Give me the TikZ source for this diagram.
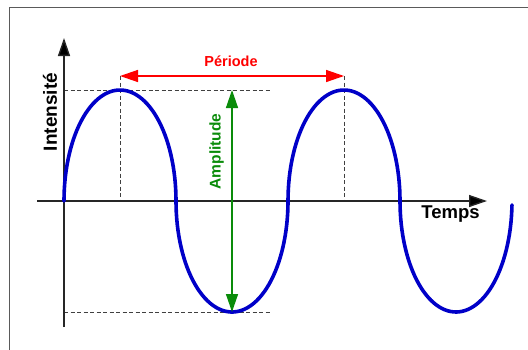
\documentclass[tikz,border=0pt]{standalone}
\usepackage{fontspec}
\setmainfont{Liberation Sans}
\usetikzlibrary{arrows.meta}
\definecolor{wave}{RGB}{0,0,200}
\definecolor{ampl}{RGB}{10,140,10}
\definecolor{peri}{RGB}{255,0,0}
\definecolor{frame}{RGB}{90,90,90}
\begin{document}
\begin{tikzpicture}[x=1bp,y=-1bp,
  axisline/.style={line width=1.4bp,draw=black!85,-{Triangle[length=18bp,width=12bp,fill=black]}},
  guide/.style={line width=0.8bp,draw=black!75,dash pattern=on 4bp off 2.5bp},
  dimline/.style={line width=1.4bp,{Triangle[length=18bp,width=12bp]}-{Triangle[length=18bp,width=12bp]}},
  lbl/.style={inner sep=0pt,font=\bfseries}]
\useasboundingbox (0,0) rectangle (528,349);
\fill[white] (0,0) rectangle (528,349);
% frame
\draw[frame,line width=1.6bp] (9.5,350) -- (9.5,7.5) -- (529,7.5);
% coordinates
\coordinate (O) at (64,201);
\coordinate (xs) at (37,201);
\coordinate (xe) at (487,201);
\coordinate (ys) at (64,327);
\coordinate (ye) at (64,38);
\coordinate (p1) at (120,90);
\coordinate (p2) at (344,90);
\coordinate (t1) at (232,312);
\coordinate (ax1) at (120,201);
\coordinate (ax2) at (344,201);
\coordinate (pa) at (120,76);
\coordinate (pb) at (344,76);
\coordinate (ga) at (232,90);
\coordinate (gb) at (232,312);
\coordinate (topL) at (64,90);
\coordinate (topR) at (272,90);
\coordinate (botL) at (64,312);
\coordinate (botR) at (272,312);
% guides
\draw[guide] (topL) -- (topR);
\draw[guide] (botL) -- (botR);
\draw[guide] (pa) -- (ax1);
\draw[guide] (pb) -- (ax2);
% axes
\draw[axisline] (xs) -- (xe);
\draw[axisline] (ys) -- (ye);
% wave
\draw[wave,line width=3.6bp,line join=round,line cap=round]
  plot[domain=0:180,samples=60,variable=\t] ({120-56*cos(\t)},{201-111*sin(\t)})
  -- plot[domain=0:180,samples=60,variable=\t] ({232-56*cos(\t)},{201+111*sin(\t)})
  -- plot[domain=0:180,samples=60,variable=\t] ({344-56*cos(\t)},{201-111*sin(\t)})
  -- plot[domain=0:178,samples=60,variable=\t] ({456-56*cos(\t)},{201+111*sin(\t)});
% period
\draw[dimline,draw=peri,fill=peri] (pa) -- (pb);
\node[lbl,text=peri,font=\bfseries\fontsize{14.5bp}{16bp}\selectfont] (period) at (231,61.5) {Période};
% amplitude
\draw[dimline,draw=ampl,fill=ampl] (ga) -- (gb);
\node[lbl,text=ampl,rotate=90,font=\bfseries\fontsize{15.5bp}{17bp}\selectfont] (amp) at (216.5,151.5) {Amplitude};
% axis labels
\node[lbl,rotate=90,font=\bfseries\fontsize{19bp}{21bp}\selectfont] (int) at (50,112) {Intensité};
\node[lbl,font=\bfseries\fontsize{18.5bp}{20bp}\selectfont] (temps) at (450.5,214.5) {Temps};
\end{tikzpicture}
\end{document}
